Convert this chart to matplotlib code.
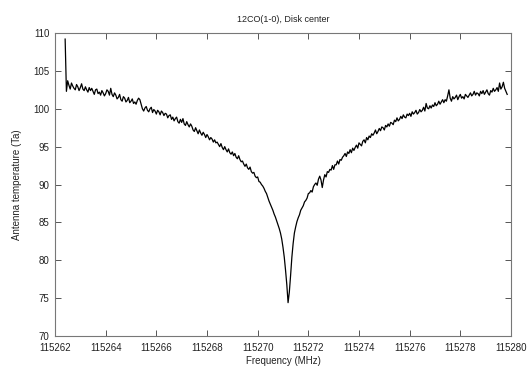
import matplotlib
matplotlib.use('Agg')
import matplotlib.pyplot as plt
import numpy as np

# spectral channels: start frequency and channel width (MHz)
freq_start = 115262.40
chan_width = 0.05

# antenna temperature per channel (1 MHz per row)
ta = [
    109.2, 102.3, 103.7, 103.1, 102.6, 103.4, 103.0, 102.7, 102.5, 103.2, 102.9, 102.4, 102.8, 103.3, 102.6, 102.4, 102.9, 102.5, 102.2, 102.8,
    102.4, 102.7, 102.3, 101.9, 102.5, 102.6, 102.0, 102.2, 101.8, 102.4, 102.1, 101.7, 102.0, 102.5, 102.3, 101.8, 102.7, 101.9, 101.6, 102.1,
    101.8, 101.3, 101.5, 101.9, 101.2, 101.0, 101.6, 101.4, 100.9, 101.1, 101.5, 100.8, 101.0, 101.3, 100.7, 100.9, 100.6, 101.1, 101.4, 101.2,
    100.6, 100.0, 99.7, 100.1, 100.3, 99.8, 99.6, 100.0, 100.2, 99.5, 99.9, 99.7, 99.3, 99.8, 99.6, 99.2, 99.7, 99.5, 99.1, 99.4,
    99.3, 98.8, 99.1, 99.2, 98.6, 98.9, 98.4, 98.7, 98.9, 98.3, 98.1, 98.6, 98.2, 98.7, 98.0, 97.8, 98.3, 97.9, 97.6, 98.0,
    97.7, 97.2, 97.0, 97.5, 97.1, 96.7, 97.2, 96.8, 96.5, 96.9, 96.6, 96.2, 96.6, 96.3, 95.9, 96.2, 96.0, 95.6, 95.9, 95.5,
    95.6, 95.3, 95.0, 95.4, 94.9, 94.6, 95.0, 94.6, 94.3, 94.7, 94.2, 94.0, 94.3, 93.8, 94.1, 93.6, 93.4, 93.8, 93.3, 93.0,
    93.1, 92.7, 92.4, 92.7, 92.2, 92.0, 92.3, 91.7, 91.5, 91.6, 91.1, 90.9, 91.0, 90.4, 90.3, 90.0, 89.8, 89.5, 89.1, 88.8,
    88.3, 87.8, 87.4, 87.0, 86.6, 86.1, 85.7, 85.2, 84.7, 84.2, 83.6, 82.8, 81.7, 80.4, 78.7, 76.8, 74.4, 75.8, 78.0, 80.4,
    82.2, 83.6, 84.4, 85.1, 85.6, 86.0, 86.6, 86.9, 87.2, 87.7, 87.9, 88.2, 88.8, 88.9, 89.2, 89.0, 89.7, 90.0, 90.2, 89.9,
    90.7, 91.1, 90.6, 89.6, 90.6, 91.3, 91.0, 91.7, 91.6, 92.0, 91.9, 92.5, 92.0, 92.6, 92.6, 93.1, 92.7, 93.3, 93.2, 93.6,
    93.8, 94.1, 93.7, 94.3, 94.1, 94.6, 94.2, 94.8, 94.5, 94.9, 95.2, 94.8, 95.5, 95.3, 95.1, 95.7, 95.9, 95.5, 96.2, 95.9,
    96.4, 96.2, 96.7, 96.5, 96.8, 97.2, 96.7, 97.0, 97.4, 97.1, 97.6, 97.5, 97.2, 97.8, 97.6, 98.0, 97.7, 98.2, 98.1, 97.9,
    98.5, 98.3, 98.8, 98.4, 98.6, 99.0, 98.7, 99.2, 98.9, 98.8, 99.3, 99.1, 99.4, 99.0, 99.6, 99.3, 99.5, 99.8, 99.3, 99.5,
    99.9, 99.6, 99.8, 100.2, 99.7, 100.7, 100.1, 100.0, 100.4, 100.1, 100.5, 100.3, 100.8, 100.4, 100.6, 101.0, 100.6, 100.9, 101.2, 100.8,
    101.2, 101.0, 101.7, 102.5, 101.4, 101.0, 101.6, 101.3, 101.5, 101.8, 101.2, 101.6, 101.9, 101.4, 101.6, 101.3, 101.9, 101.7, 101.5, 101.8,
    102.1, 101.7, 101.9, 102.3, 101.8, 102.1, 102.0, 101.7, 102.3, 102.0, 102.4, 101.9, 102.2, 102.5, 102.0, 101.8, 102.4, 102.2, 102.7, 102.3,
    102.5, 102.8, 102.3, 103.4, 102.6, 102.9, 103.5, 102.7, 102.3, 101.9,
]

freq = freq_start + chan_width * np.arange(len(ta))

x_ticks = [115262, 115264, 115266, 115268, 115270, 115272, 115274, 115276, 115278, 115280]
y_ticks = [70, 75, 80, 85, 90, 95, 100, 105, 110]

plt.rcParams['font.family'] = ['Liberation Sans', 'DejaVu Sans']

fig = plt.figure(figsize=(5.32, 3.67), dpi=100)
ax = fig.add_axes([0.1034, 0.0845, 0.8571, 0.8255])

ax.plot(freq, ta, color='black', linewidth=0.9)

ax.set_xlim(115262, 115280)
ax.set_ylim(70, 110)
ax.set_xticks(x_ticks)
ax.set_xticklabels([str(t) for t in x_ticks])
ax.set_yticks(y_ticks)

ax.tick_params(direction='in', length=4, width=0.7, top=True, right=True,
               labelsize=7, colors='#555555', labelcolor='#222222')
ax.tick_params(axis='x', pad=5)
ax.tick_params(axis='y', pad=4)
for s in ax.spines.values():
    s.set_color('#777777')
    s.set_linewidth(0.8)

ax.set_title('12CO(1-0), Disk center', fontsize=6.5, color='#222222', pad=8)
ax.set_xlabel('Frequency (MHz)', fontsize=7, color='#222222', labelpad=2)
ax.set_ylabel('Antenna temperature (Ta)', fontsize=7, color='#222222', labelpad=8)

fig.savefig('out.png', dpi=100)
